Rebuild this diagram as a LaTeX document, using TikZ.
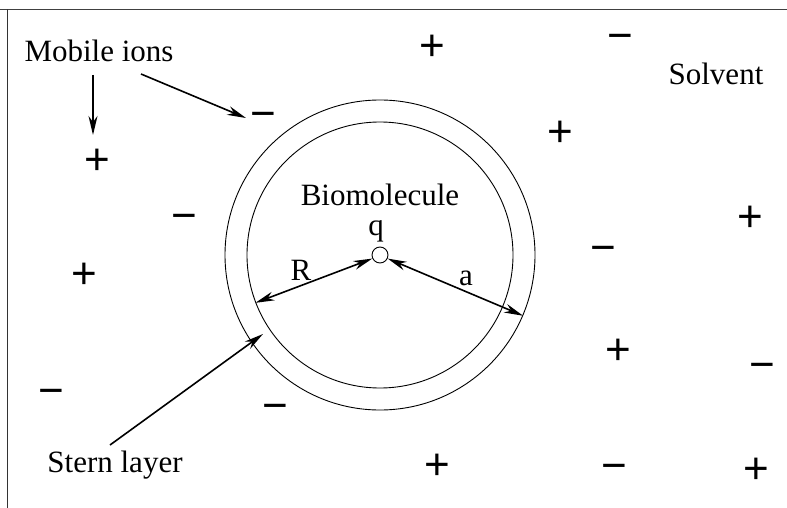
\documentclass[tikz,border=0pt]{standalone}
\usepackage{fontspec}
\setmainfont{Liberation Serif}
\newfontfamily\chgfont{Liberation Sans}
\usetikzlibrary{arrows.meta}
\begin{document}
\begin{tikzpicture}[x=1pt,y=-1pt,
  lbl/.style={inner sep=0pt, font=\fontsize{31}{36}\selectfont},
  chg/.style={inner sep=0pt, font=\chgfont\fontsize{44}{48}\selectfont},
  ptr/.style={line width=1.6pt, -{Stealth[length=19pt,width=9pt,inset=6pt]}},
  dptr/.style={line width=1.6pt, {Stealth[length=19pt,width=9pt,inset=6pt]}-{Stealth[length=19pt,width=9pt,inset=6pt]}},
  ring/.style={draw, circle, line width=0.9pt, inner sep=0pt}]
\useasboundingbox (0,0) rectangle (787,508);
% frame
\draw[line width=1.4pt, black!75] (0,9.5) -- (787,9.5);
\draw[line width=1.4pt, black!80] (7.5,9.5) -- (7.5,508);
% circles
\node[ring, minimum size=310pt] (outer) at (380,255) {};
\node[ring, minimum size=266pt] (inner) at (380,255) {};
\node[ring, minimum size=16pt] (qc) at (380,255) {};
% labels
\node[lbl] (bio) at (380,195) {Biomolecule};
\node[lbl] (q) at (376,231) {q};
\node[lbl] (R) at (301,270) {R};
\node[lbl] (a) at (466,278) {a};
\node[lbl] (mob) at (99,51) {Mobile ions};
\node[lbl] (solv) at (716,74) {Solvent};
\node[lbl] (stern) at (115,465) {Stern layer};
% charges
\node[chg] (p1) at (97,162) {+};
\node[chg] (m1) at (263,120) {−};
\node[chg] (p2) at (432,48) {+};
\node[chg] (m2) at (620,42) {−};
\node[chg] (p3) at (560,134) {+};
\node[chg] (m3) at (184,222) {−};
\node[chg] (p4) at (84,276) {+};
\node[chg] (p5) at (750,219) {+};
\node[chg] (m4) at (603,254) {−};
\node[chg] (p6) at (618,352) {+};
\node[chg] (m5) at (762,371) {−};
\node[chg] (m6) at (51,397) {−};
\node[chg] (m7) at (275,412) {−};
\node[chg] (p7) at (437,467) {+};
\node[chg] (m8) at (614,472) {−};
\node[chg] (p8) at (756,471) {+};
% arrows
\coordinate (mobA) at (93,75);
\coordinate (mobB) at (141,74);
\coordinate (tipP) at (93,135);
\coordinate (tipM) at (246,118);
\draw[ptr] (mobA) -- (tipP);
\draw[ptr] (mobB) -- (tipM);
\coordinate (sternS) at (110,445);
\coordinate (sternT) at (263,334);
\draw[ptr] (sternS) -- (sternT);
\draw[dptr] (inner.201) -- (qc.205);
\draw[dptr] (qc.-25) -- (outer.-23);
\end{tikzpicture}
\end{document}
